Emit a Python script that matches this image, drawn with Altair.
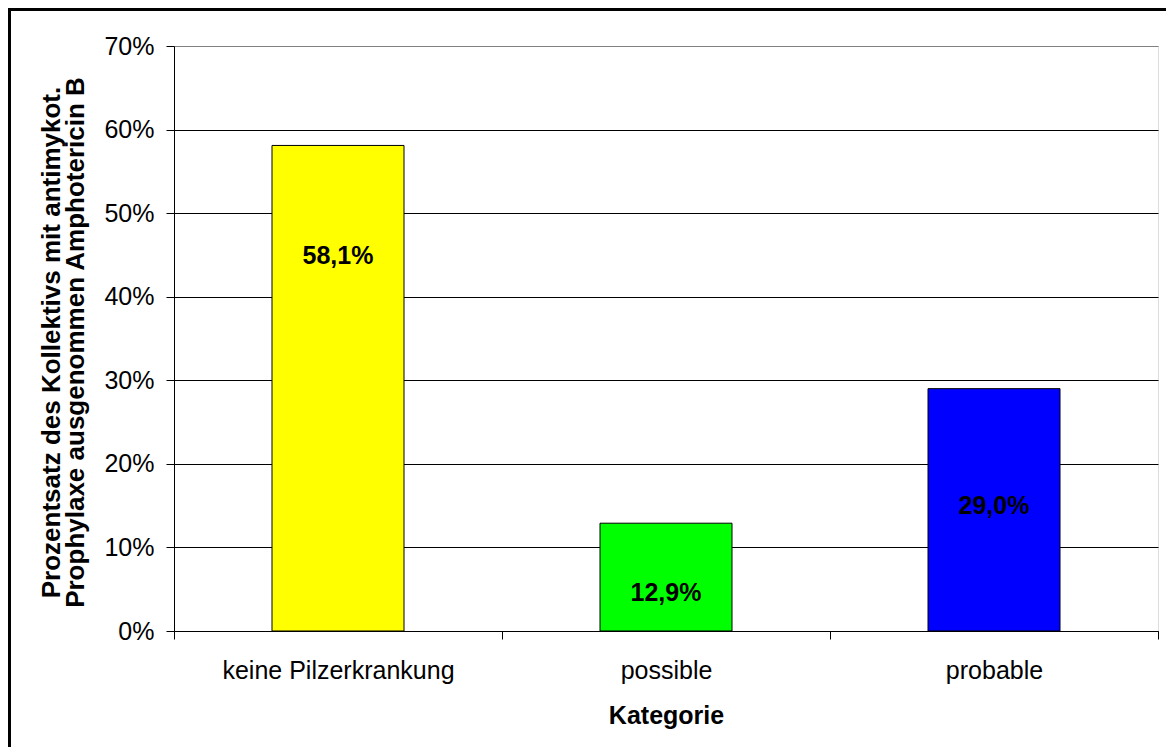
import altair as alt
import pandas as pd

categories = ["keine Pilzerkrankung", "possible", "probable"]
values = [0.581, 0.129, 0.290]
label_texts = ["58,1%", "12,9%", "29,0%"]
label_pos = [0.449, 0.0455, 0.150]
colors = ["#FFFF00", "#00FF00", "#0000FF"]
y_ticks = [0.0, 0.1, 0.2, 0.3, 0.4, 0.5, 0.6, 0.7]

df = pd.DataFrame({
    "Kategorie": categories,
    "Wert": values,
    "Text": label_texts,
    "Pos": label_pos,
    "Farbe": colors,
})

FONT = "Liberation Sans"
FS = 25
W, H = 984, 585

x_enc = alt.X(
    "Kategorie:N",
    sort=categories,
    scale=alt.Scale(paddingInner=0, paddingOuter=0),
    axis=alt.Axis(
        title="Kategorie",
        tickBand="extent",
        labelAngle=0,
        labelLimit=0,
        labelFont=FONT,
        labelFontSize=FS,
        labelColor="black",
        labelBaseline="alphabetic",
        labelPadding=39,
        tickSize=8,
        tickColor="black",
        domainColor="black",
        titleFont=FONT,
        titleFontSize=FS,
        titleFontWeight="bold",
        titleColor="black",
        titleBaseline="alphabetic",
        titleY=92,
        grid=False,
    ),
)

y_scale = alt.Scale(domain=[0, 0.7], nice=False, zero=True)

bars = alt.Chart(df).mark_bar(width=132, stroke="black", strokeWidth=1).encode(
    x=x_enc,
    y=alt.Y(
        "Wert:Q",
        scale=y_scale,
        axis=alt.Axis(
            title=["Prozentsatz des Kollektivs mit antimykot.",
                   "Prophylaxe ausgenommen Amphotericin B"],
            values=y_ticks,
            format=".0%",
            labelFont=FONT,
            labelFontSize=FS,
            labelColor="black",
            labelPadding=12,
            tickSize=8,
            tickColor="black",
            domainColor="black",
            grid=True,
            gridColor=alt.condition("datum.value >= 0.69", alt.value("#808080"), alt.value("black")),
            gridWidth=1,
            titleFont=FONT,
            titleFontSize=26,
            titleFontWeight="bold",
            titleColor="black",
            titleLineHeight=24,
            titleAngle=270,
            titleBaseline="alphabetic",
            titleX=-115,
            titleY=296,
            titleLimit=0,
        ),
    ),
    color=alt.Color("Farbe:N", scale=None, legend=None),
)

labels = alt.Chart(df).mark_text(
    font=FONT, fontSize=FS, fontWeight="bold", color="black", baseline="middle", align="center"
).encode(
    x=alt.X("Kategorie:N", sort=categories),
    y=alt.Y("Pos:Q", scale=y_scale),
    text="Text:N",
)

frame_top = alt.Chart(df).mark_rule(color="black", strokeWidth=3).encode(
    x=alt.value(-166), x2=alt.value(1000), y=alt.value(-36.5)
)
frame_left = alt.Chart(df).mark_rule(color="black", strokeWidth=3).encode(
    x=alt.value(-164.5), y=alt.value(-38), y2=alt.value(720)
)

chart = alt.layer(bars, labels, frame_top, frame_left).properties(
    width=W,
    height=H,
    autosize=alt.AutoSizeParams(type="none"),
    padding={"left": 174, "top": 46, "right": 8, "bottom": 116},
).configure_view(
    stroke="#808080", strokeWidth=1.5
).configure(background="white")

chart.save("out.html", embed_options={"renderer": "svg", "actions": False})
